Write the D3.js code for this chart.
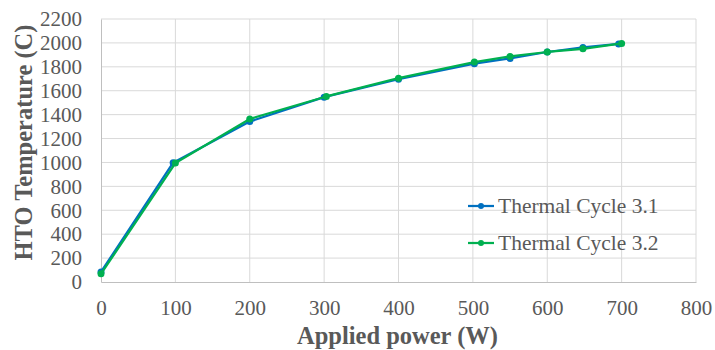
<!DOCTYPE html>
<html>
<head>
<meta charset="utf-8">
<script src="https://cdn.jsdelivr.net/npm/d3@7"></script>
<style>
  body { margin: 0; background: #fff; }
  svg text { font-family: "Liberation Serif", "Times New Roman", serif; }
</style>
</head>
<body>
<svg id="chart" width="715" height="350"></svg>
<script>
const cycle31Power = [0, 97, 200, 300, 400, 502, 550, 600, 648, 696];
const cycle31Temp = [84, 998, 1342, 1546, 1697, 1826, 1870, 1924, 1962, 1991];
const cycle32Power = [0, 100, 200, 303, 400, 502, 550, 600, 648, 700];
const cycle32Temp = [68, 995, 1364, 1552, 1705, 1840, 1887, 1924, 1951, 1996];
const seriesNames = ["Thermal Cycle 3.1", "Thermal Cycle 3.2"];
const xTicks = [0, 100, 200, 300, 400, 500, 600, 700, 800];
const yTicks = [0, 200, 400, 600, 800, 1000, 1200, 1400, 1600, 1800, 2000, 2200];

const settings = {
  left: 101, right: 696, top: 19, bottom: 282,
  colors: ["#0070C0", "#00B050"],
  tickFont: "21px",
  titleFont: "24.5px",
};

const svg = d3.select("#chart");

const x = d3.scaleLinear().domain([0, 800]).range([settings.left, settings.right]);
const y = d3.scaleLinear().domain([0, 2200]).range([settings.bottom, settings.top]);

// gridlines
const grid = svg.append("g").attr("class", "grid");
grid.selectAll("line.h")
  .data(yTicks.slice(1))
  .join("line")
  .attr("x1", settings.left).attr("x2", settings.right)
  .attr("y1", (d) => y(d)).attr("y2", (d) => y(d))
  .attr("stroke", "#d9d9d9").attr("stroke-width", 1);
grid.selectAll("line.v")
  .data(xTicks.slice(1))
  .join("line")
  .attr("y1", settings.top).attr("y2", settings.bottom)
  .attr("x1", (d) => x(d)).attr("x2", (d) => x(d))
  .attr("stroke", "#d9d9d9").attr("stroke-width", 1);

// axes
const xaxis = d3.axisBottom(x).tickValues(xTicks).tickFormat(d3.format("d"))
  .tickSize(0).tickPadding(18);
svg.append("g")
  .attr("transform", `translate(0, ${settings.bottom})`)
  .call(xaxis)
  .call((g) => g.select(".domain").attr("stroke", "#bfbfbf"))
  .call((g) => g.selectAll(".tick text")
    .style("font-size", settings.tickFont).attr("fill", "#595959")
    .style("font-family", "Liberation Serif"));

const yaxis = d3.axisLeft(y).tickValues(yTicks).tickFormat(d3.format("d"))
  .tickSize(0).tickPadding(19);
svg.append("g")
  .attr("transform", `translate(${settings.left}, 0)`)
  .call(yaxis)
  .call((g) => g.select(".domain").attr("stroke", "#bfbfbf"))
  .call((g) => g.selectAll(".tick text")
    .style("font-size", settings.tickFont).attr("fill", "#595959")
    .style("font-family", "Liberation Serif"));

// axis titles
svg.append("text")
  .attr("x", (settings.left + settings.right) / 2 - 1)
  .attr("y", 344)
  .attr("text-anchor", "middle")
  .style("font-size", settings.titleFont).attr("font-weight", "bold").attr("fill", "#595959")
  .text("Applied power (W)");

svg.append("text")
  .attr("transform", `translate(32, ${(settings.top + settings.bottom) / 2 - 8}) rotate(-90)`)
  .attr("text-anchor", "middle")
  .style("font-size", settings.titleFont).attr("font-weight", "bold").attr("fill", "#595959")
  .text("HTO Temperature (C)");

// series
const series = [
  { name: seriesNames[0], power: cycle31Power, temp: cycle31Temp, color: settings.colors[0] },
  { name: seriesNames[1], power: cycle32Power, temp: cycle32Temp, color: settings.colors[1] },
];

const line = d3.line().x((d) => x(d[0])).y((d) => y(d[1]));

series.forEach((s) => {
  const pts = s.power.map((p, i) => [p, s.temp[i]]);
  const g = svg.append("g").attr("class", "series");
  g.append("path")
    .attr("d", line(pts))
    .attr("fill", "none")
    .attr("stroke", s.color)
    .attr("stroke-width", 2.25)
    .attr("stroke-linejoin", "round");
  g.selectAll("circle")
    .data(pts)
    .join("circle")
    .attr("cx", (d) => x(d[0]))
    .attr("cy", (d) => y(d[1]))
    .attr("r", 3.5)
    .attr("fill", s.color);
});

// legend
const legend = svg.append("g").attr("class", "legend");
series.forEach((s, i) => {
  const ly = 206 + i * 37;
  legend.append("line")
    .attr("x1", 468).attr("x2", 494)
    .attr("y1", ly).attr("y2", ly)
    .attr("stroke", s.color).attr("stroke-width", 2.25);
  legend.append("circle")
    .attr("cx", 481).attr("cy", ly).attr("r", 3)
    .attr("fill", s.color);
  legend.append("text")
    .attr("x", 498).attr("y", ly + 7)
    .style("font-size", "21.5px").attr("fill", "#595959")
    .text(s.name);
});
</script>
</body>
</html>
